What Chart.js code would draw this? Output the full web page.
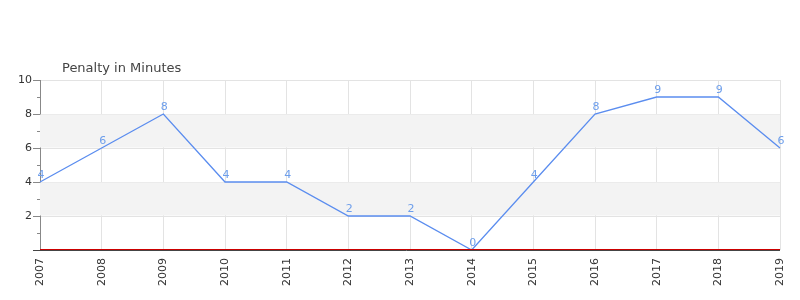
<!DOCTYPE html>
<html>
<head>
<meta charset="utf-8">
<script src="https://cdn.jsdelivr.net/npm/chart.js@4"></script>
<style>
  body { margin: 0; background: #fff; }
  #wrap { width: 800px; height: 300px; }
</style>
</head>
<body>
<div id="wrap"><canvas id="penaltyChart"></canvas></div>
<script>
// Data
const years = ['2007', '2008', '2009', '2010', '2011', '2012', '2013', '2014', '2015', '2016', '2017', '2018', '2019'];
const penaltyMinutes = [4, 6, 8, 4, 4, 2, 2, 0, 4, 8, 9, 9, 6];
const bands = [[2, 4], [6, 8]];
const chartTitle = 'Penalty in Minutes';

const FONT = '"DejaVu Sans", sans-serif';

// background bands, minor ticks, base lines, point labels, title
const decorPlugin = {
    id: 'decor',
    beforeDatasetsDraw(chart) {
        const ctx = chart.ctx;
        const area = chart.chartArea;
        const y = chart.scales.y;
        ctx.save();
        ctx.fillStyle = '#f3f3f3';
        bands.forEach(function(b) {
            const y1 = y.getPixelForValue(b[1]);
            const y0 = y.getPixelForValue(b[0]);
            ctx.fillRect(area.left, y1 + 0.5, area.right - area.left, y0 - y1 - 1);
        });
        ctx.restore();
    },
    afterDatasetsDraw(chart) {
        const ctx = chart.ctx;
        const area = chart.chartArea;
        const y = chart.scales.y;
        ctx.save();

        // minor ticks on the y axis
        ctx.strokeStyle = '#888';
        ctx.lineWidth = 1;
        for (let v = 1; v < 10; v += 2) {
            const py = Math.round(y.getPixelForValue(v)) + 0.5;
            ctx.beginPath();
            ctx.moveTo(area.left - 3, py);
            ctx.lineTo(area.left, py);
            ctx.stroke();
        }

        // red line sitting on the dark x axis
        ctx.strokeStyle = '#cc0000';
        ctx.beginPath();
        ctx.moveTo(area.left, area.bottom - 0.5);
        ctx.lineTo(area.right, area.bottom - 0.5);
        ctx.stroke();
        ctx.strokeStyle = '#444';
        ctx.beginPath();
        ctx.moveTo(area.left - 7, area.bottom + 0.5);
        ctx.lineTo(area.right, area.bottom + 0.5);
        ctx.stroke();

        // value labels above the points
        ctx.fillStyle = '#6d9eeb';
        ctx.font = '11px ' + FONT;
        ctx.textAlign = 'center';
        ctx.textBaseline = 'alphabetic';
        const meta = chart.getDatasetMeta(0);
        meta.data.forEach(function(pt, i) {
            ctx.fillText(String(penaltyMinutes[i]), pt.x + 1, pt.y - 4);
        });

        // title
        ctx.fillStyle = '#444';
        ctx.font = '13px ' + FONT;
        ctx.textAlign = 'left';
        ctx.fillText(chartTitle, 62, 72);
        ctx.restore();
    }
};

const ctx = document.getElementById('penaltyChart').getContext('2d');
window.penaltyChart = new Chart(ctx, {
    type: 'line',
    data: {
        labels: years,
        datasets: [{
            label: chartTitle,
            data: penaltyMinutes,
            borderColor: '#5b8def',
            borderWidth: 1.3,
            pointRadius: 0,
            tension: 0,
            fill: false
        }]
    },
    options: {
        responsive: true,
        maintainAspectRatio: false,
        animation: false,
        layout: { padding: { top: 80, right: 20, left: 0, bottom: 0 } },
        plugins: {
            legend: { display: false },
            tooltip: { enabled: false }
        },
        scales: {
            x: {
                offset: false,
                grid: { color: '#e3e3e3', drawTicks: false },
                border: { display: false },
                ticks: {
                    color: '#333',
                    font: { family: FONT, size: 11 },
                    maxRotation: 90,
                    minRotation: 90,
                    padding: 8,
                    autoSkip: false
                },
                afterFit: function(scale) {
                    scale.height = 50;
                    scale.paddingLeft = 0;
                    scale.paddingRight = 0;
                }
            },
            y: {
                min: 0,
                max: 10,
                grid: {
                    color: '#e3e3e3',
                    tickColor: '#888',
                    tickLength: 7
                },
                border: { color: '#888' },
                ticks: {
                    stepSize: 2,
                    color: '#333',
                    padding: 1,
                    font: { family: FONT, size: 11 },
                    callback: function(v) { return v === 0 ? '' : v; }
                },
                afterFit: function(scale) { scale.width = 40; }
            }
        }
    },
    plugins: [decorPlugin]
});
</script>
</body>
</html>
